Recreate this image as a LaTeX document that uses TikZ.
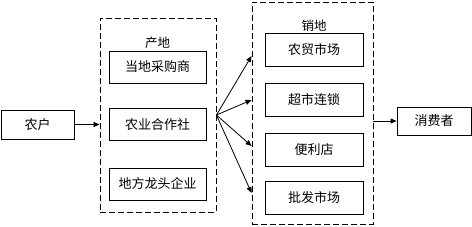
\documentclass[tikz,border=0pt]{standalone}
\usepackage{fontspec}
\newfontfamily\cjk{Noto Sans CJK SC}
\usetikzlibrary{positioning,arrows.meta,calc}
\tikzset{
  unitbox/.style={draw, line width=0.8pt, align=center, inner sep=0pt,
              font=\cjk\fontsize{13}{15}\selectfont},
  zonebox/.style={draw, dashed, dash pattern=on 6pt off 3pt, line width=0.9pt,
              inner sep=0pt},
  zonelabel/.style={font=\cjk\fontsize{12.5}{14}\selectfont, inner sep=1pt},
  flow/.style={line width=0.8pt, -{Triangle[length=6pt,width=5pt]}},
}
\begin{document}
\begin{tikzpicture}[x=1pt,y=-1pt]
\useasboundingbox (0,0) rectangle (472,226);
% left: the farmers
\node[unitbox, minimum width=73pt, minimum height=29pt] (nh) at (37.5,124.5) {农户};
% origin zone
\node[zonebox, minimum width=116pt, minimum height=194pt] (cd) at (158,115) {};
\node[unitbox, minimum width=97pt, minimum height=32pt] (cg) at (157.5,67) {当地采购商};
\node[unitbox, minimum width=97pt, minimum height=32pt] (hz) at (157.5,124.5) {农业合作社};
\node[unitbox, minimum width=97pt, minimum height=32pt] (lt) at (157.5,184) {地方龙头企业};
\node[zonelabel, above=1pt of cg] (cdl) {产地};
% market zone
\node[zonebox, minimum width=121pt, minimum height=222pt] (xd) at (312.5,113) {};
\node[unitbox, minimum width=98pt, minimum height=33pt] (nm) at (314,50) {农贸市场};
\node[unitbox, minimum width=98pt, minimum height=33pt] (cs) at (314,99.5) {超市连锁};
\node[unitbox, minimum width=98pt, minimum height=33pt] (bl) at (314,149.5) {便利店};
\node[unitbox, minimum width=98pt, minimum height=33pt] (pf) at (314,197.5) {批发市场};
\node[zonelabel, above=0pt of nm] (xdl) {销地};
% right: the consumers
\node[unitbox, minimum width=74pt, minimum height=28pt] (xf) at (434,121) {消费者};
% connectors
\draw[flow] (nh.east) -- (nh.east -| cd.west);
\foreach \t/\dy in {nm/6, cs/0.5, bl/-3.5, pf/-4.5}
  \draw[flow] (cd.east) -- ($(xd.west |- \t)+(0,\dy)$);
\draw[flow] (xf.west -| xd.east) -- (xf.west);
\end{tikzpicture}
\end{document}
